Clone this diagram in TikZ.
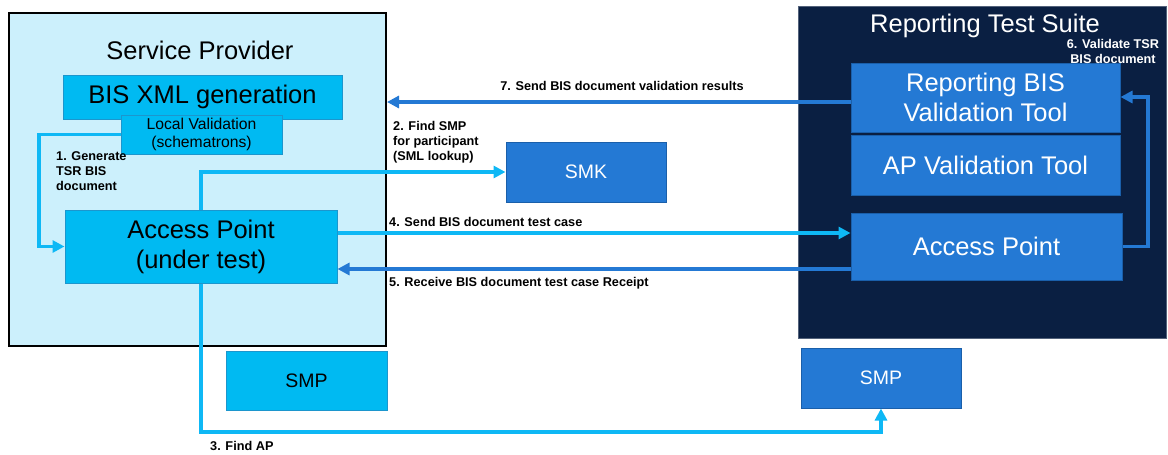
\documentclass[tikz,border=0pt]{standalone}
\usepackage{fontspec}
\setmainfont{Liberation Sans}
\usetikzlibrary{arrows.meta,calc}
\definecolor{spfill}{RGB}{204,240,252}
\definecolor{cfill}{RGB}{0,186,242}
\definecolor{cbord}{RGB}{28,150,205}
\definecolor{navy}{RGB}{10,31,66}
\definecolor{bfill}{RGB}{36,121,212}
\definecolor{bbord}{RGB}{26,95,170}
\definecolor{carrow}{RGB}{14,184,245}
\definecolor{barrow}{RGB}{36,121,212}
\tikzset{
  bigfont/.style={font=\fontsize{25.5}{30}\selectfont},
  cbox/.style={draw=cbord, fill=cfill, line width=1pt, inner sep=0pt, text=black, align=center},
  bbox/.style={draw=bbord, fill=bfill, line width=1pt, inner sep=0pt, text=white, align=center},
  lbl/.style={font=\bfseries\fontsize{12.7}{15}\selectfont, inner sep=0pt, text=black},
  carr/.style={draw=carrow, line width=3.6pt, -{Triangle[length=12pt,width=12pt]}},
  barr/.style={draw=barrow, line width=3.3pt, -{Triangle[length=12pt,width=12pt]}}
}
\begin{document}
\begin{tikzpicture}[x=1pt,y=-1pt]
\useasboundingbox (0,0) rectangle (1168,455);
% containers
\node[draw=black, line width=2pt, fill=spfill, minimum width=377pt, minimum height=333pt, inner sep=0pt] (sp) at (197.5,179.5) {};
\node[bigfont] (sptitle) at (200,50) {Service Provider};
\node[fill=navy, draw=navy!70!white, line width=0.8pt, minimum width=368pt, minimum height=332pt, inner sep=0pt] (rts) at (982,172) {};
\node[bigfont, text=white] (rtstitle) at (985,26) {Reporting Test Suite};
% service provider boxes
\node[cbox, bigfont, minimum width=279pt, minimum height=44pt] (bis) at (202.5,97) {BIS XML generation};
\node[cbox, font=\fontsize{15.7}{17.5}\selectfont, minimum width=161pt, minimum height=39pt] (lv) at (201.5,134.5) {Local Validation\\(schematrons)};
\node[cbox, bigfont, minimum width=272pt, minimum height=73pt] (ap) at (201,246.5) {Access Point\\(under test)};
\node[cbox, font=\fontsize{19.5}{22}\selectfont, minimum width=161pt, minimum height=59pt] (smpl) at (306.5,380.5) {SMP};
% reporting test suite boxes
\node[bbox, bigfont, minimum width=269pt, minimum height=69pt] (rbv) at (985.5,97.5) {Reporting BIS\\Validation Tool};
\node[bbox, bigfont, minimum width=269pt, minimum height=60pt] (apv) at (985.5,165) {AP Validation Tool};
\node[bbox, bigfont, minimum width=271pt, minimum height=67pt] (rap) at (986.5,246.5) {Access Point};
\node[bbox, font=\fontsize{19.5}{22}\selectfont, minimum width=160pt, minimum height=60pt] (smk) at (586,172) {SMK};
\node[bbox, font=\fontsize{19.5}{22}\selectfont, minimum width=160pt, minimum height=60pt] (smpr) at (881,378) {SMP};
% coordinates
\coordinate (c1) at (39,246.5);
\coordinate (c2) at (201,172);
\coordinate (c3) at (201,432);
\coordinate (c6) at (1148,97);
% connectors
\draw[carr] (lv.west) -| (c1) -- (ap.west);
\draw[carr] (ap.north) -- (c2) -- (smk.west);
\draw[carr] (ap.south) -- (c3) -| (smpr.south);
\draw[carr] (ap.east |- 0,233) -- (rap.west |- 0,233);
\draw[barr] (rap.west |- 0,269) -- (ap.east |- 0,269);
\draw[barr] (rap.east) -| (c6) -- (rbv.east |- c6);
\draw[barr] (rbv.west |- 0,102) -- (sp.east |- 0,102);
% labels
\node[lbl, align=left, anchor=west] (l1) at (56,171) {1. Generate\\TSR BIS\\document};
\node[lbl, align=left, anchor=west] (l2) at (393,142) {2. Find SMP\\for participant\\(SML lookup)};
\node[lbl, anchor=west] (l3) at (210,446) {3. Find AP};
\node[lbl, anchor=west] (l4) at (389,222) {4. Send BIS document test case};
\node[lbl, anchor=west] (l5) at (389,283) {5. Receive BIS document test case Receipt};
\node[lbl, align=center, text=white] (l6) at (1113,51) {6. Validate TSR\\BIS document};
\node[lbl] (l7) at (622,86) {7. Send BIS document validation results};
\end{tikzpicture}
\end{document}
